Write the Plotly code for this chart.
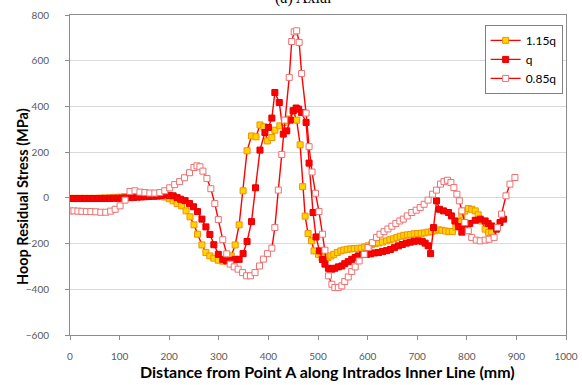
import plotly.graph_objects as go

# Hoop residual stress along the intrados inner line for three load levels
x_115q = [0, 10, 20, 30, 40, 50, 60, 70, 80, 90, 100, 110, 120, 130, 140, 150, 160, 170, 180, 190,
          200, 208, 216, 225, 234, 242, 250, 257, 266, 274, 282, 290, 299, 308, 316, 325, 333, 341,
          349, 357, 366, 375, 383, 391, 398, 407, 413, 423, 433, 441, 450, 457, 464, 469, 474, 480,
          487, 492, 501, 508, 514, 520, 526, 532, 539, 546, 552, 559, 566, 573, 580, 587, 594, 601,
          608, 615, 622, 630, 638, 645, 652, 659, 666, 673, 680, 687, 694, 701, 708, 715, 722, 729,
          736, 743, 750, 757, 764, 771, 778, 784, 790, 796, 803, 810, 817, 823, 830, 837, 844, 850]
y_115q = [-2, -2, -2, -2, -2, -2, -1, 0, 1, 2, 3, 5, 7, 8, 9, 10, 10, 9, 7, 4,
          -4, -13, -25, -35, -57, -83, -118, -159, -206, -239, -254, -264, -273, -277, -270, -254, -206, -118,
          31, 206, 271, 267, 319, 311, 249, 264, 296, 315, 330, 345, 381, 340, 232, 49, -80, -156,
          -188, -232, -247, -262, -268, -261, -254, -247, -239, -232, -228, -225, -223, -222, -221, -220, -215, -210,
          -205, -200, -197, -193, -188, -183, -179, -173, -168, -164, -162, -160, -157, -156, -155, -153, -150, -147,
          -144, -140, -142, -145, -147, -147, -128, -105, -75, -58, -47, -50, -57, -74, -101, -137, -152, -148]

x_q = [0, 8, 16, 24, 32, 40, 48, 56, 64, 72, 80, 88, 96, 104, 112, 120, 128, 136, 144, 152,
       160, 168, 176, 184, 192, 200, 208, 216, 223, 232, 241, 249, 257, 266, 274, 282, 290, 299,
       308, 316, 324, 333, 341, 349, 357, 366, 374, 383, 393, 400, 407, 413, 422, 430, 437, 444,
       450, 456, 461, 467, 476, 482, 490, 496, 503, 509, 514, 521, 528, 534, 541, 548, 554, 561,
       568, 575, 581, 590, 598, 606, 614, 622, 630, 638, 646, 654, 662, 670, 678, 686, 694, 702,
       710, 716, 722, 727, 733, 739, 745, 753, 763, 769, 776, 783, 790, 796, 806, 817, 827, 837,
       843, 850, 860, 867, 874]
y_q = [-3, -3, -3, -3, -3, -3, -3, -3, -3, -3, -3, -2, -2, -1, 0, 1, 2, 3, 4, 5,
       6, 7, 8, 10, 13, 11, 9, 1, -6, -12, -25, -39, -60, -93, -127, -160, -205, -247,
       -269, -276, -273, -269, -269, -244, -191, -104, 44, 209, 286, 308, 349, 461, 417, 279, 293, 340,
       381, 393, 388, 373, 330, 152, -64, -171, -232, -270, -290, -308, -312, -308, -302, -298, -288, -279,
       -269, -261, -254, -248, -247, -245, -241, -239, -235, -231, -226, -218, -210, -204, -198, -194, -190, -188,
       -190, -198, -210, -244, -130, -13, -50, -57, -64, -79, -101, -125, -150, -137, -112, -98, -93, -101,
       -112, -123, -137, -108, -93]

x_085q = [0, 8, 16, 24, 33, 42, 52, 62, 72, 82, 91, 101, 111, 121, 131, 141, 151, 161, 171, 181,
          191, 201, 211, 221, 231, 241, 250, 256, 262, 268, 276, 284, 292, 299, 308, 316, 323, 331,
          339, 348, 356, 364, 373, 382, 390, 398, 407, 413, 420, 427, 433, 442, 447, 452, 457, 462,
          467, 476, 482, 488, 495, 502, 509, 514, 521, 528, 534, 541, 548, 554, 561, 568, 575, 583,
          593, 601, 610, 618, 625, 633, 641, 649, 657, 665, 672, 680, 689, 698, 706, 714, 722, 731,
          739, 747, 754, 761, 768, 774, 780, 785, 790, 796, 803, 810, 819, 827, 837, 845, 855, 862,
          870, 879, 887, 897]
y_085q = [-57, -57, -58, -59, -60, -60, -61, -63, -63, -58, -50, -35, -10, 28, 31, 25, 23, 21, 21, 23,
          31, 44, 58, 71, 88, 110, 133, 140, 136, 117, 85, 40, -25, -95, -183, -245, -290, -302,
          -312, -327, -341, -341, -327, -298, -268, -244, -220, -130, 34, 190, 340, 527, 684, 726, 731, 680,
          544, 371, 224, 113, 20, -60, -159, -229, -341, -378, -392, -392, -385, -366, -346, -322, -302, -276,
          -247, -217, -196, -173, -159, -148, -136, -124, -112, -101, -93, -79, -64, -54, -42, -28, -10, 16,
          34, 60, 71, 77, 67, 45, 16, -13, -57, -108, -144, -173, -185, -188, -185, -181, -173, -130,
          -71, 9, 60, 89]

series = [
    ("1.15q", x_115q, y_115q, dict(symbol="square", color="#FFD400", line=dict(color="#F39200", width=1))),
    ("q", x_q, y_q, dict(symbol="square", color="#FF0000", line=dict(color="#E60000", width=1))),
    ("0.85q", x_085q, y_085q, dict(symbol="square", color="#FFFFFF", line=dict(color="#EE7070", width=1))),
]

fig = go.Figure()
for name, xs, ys, mk in series:
    fig.add_trace(go.Scatter(
        x=xs, y=ys, name=name, mode="lines+markers",
        line=dict(color="#FF0000", width=1.4),
        marker=dict(size=6, **mk),
    ))

axis_font = dict(family="Lato, Open Sans, sans-serif", size=10, color="#595959")
label_family = "Lato, Open Sans, sans-serif"

fig.update_layout(
    width=582, height=385,
    margin=dict(l=70, r=16, t=15, b=50),
    paper_bgcolor="white", plot_bgcolor="white",
    showlegend=True,
    legend=dict(
        x=0.836, y=0.969, xanchor="left", yanchor="top",
        bgcolor="white", bordercolor="#808080", borderwidth=1,
        font=dict(family=label_family, size=12, color="#000000"),
        itemwidth=30, tracegroupgap=0,
    ),
    annotations=[
        dict(text="(a) Axial", x=0.47, y=1.02, xref="paper", yref="paper",
             xanchor="center", yanchor="bottom", showarrow=False,
             font=dict(family="Liberation Serif, serif", size=16, color="#000000")),
        # axis titles
        dict(text="<b>Distance from Point A along Intrados Inner Line (mm)</b>",
             x=0.52, y=-0.113, xref="paper", yref="paper",
             xanchor="center", yanchor="middle", showarrow=False,
             font=dict(family=label_family, size=16, color="#000000")),
        dict(text="<b>Hoop Residual Stress (MPa)</b>", textangle=-90,
             x=-0.097, y=0.434, xref="paper", yref="paper",
             xanchor="center", yanchor="middle", showarrow=False,
             font=dict(family=label_family, size=14.5, color="#000000")),
    ],
)

fig.update_xaxes(
    range=[0, 1000], dtick=100, tick0=0, automargin=False,
    showgrid=False, zeroline=False,
    showline=True, linecolor="#8C8C8C", linewidth=1, mirror=True,
    ticks="outside", ticklen=4, tickcolor="#8C8C8C",
    ticklabelstandoff=8,
    tickfont=axis_font,
)
fig.update_yaxes(
    range=[-600, 800], dtick=200, tick0=-600, automargin=False,
    showgrid=True, gridcolor="#D9D9D9", gridwidth=1, zeroline=False,
    showline=True, linecolor="#8C8C8C", linewidth=1, mirror=True,
    ticks="outside", ticklen=4, tickcolor="#8C8C8C",
    ticklabelstandoff=14,
    tickfont=axis_font,
)

fig.write_html("out.html")
